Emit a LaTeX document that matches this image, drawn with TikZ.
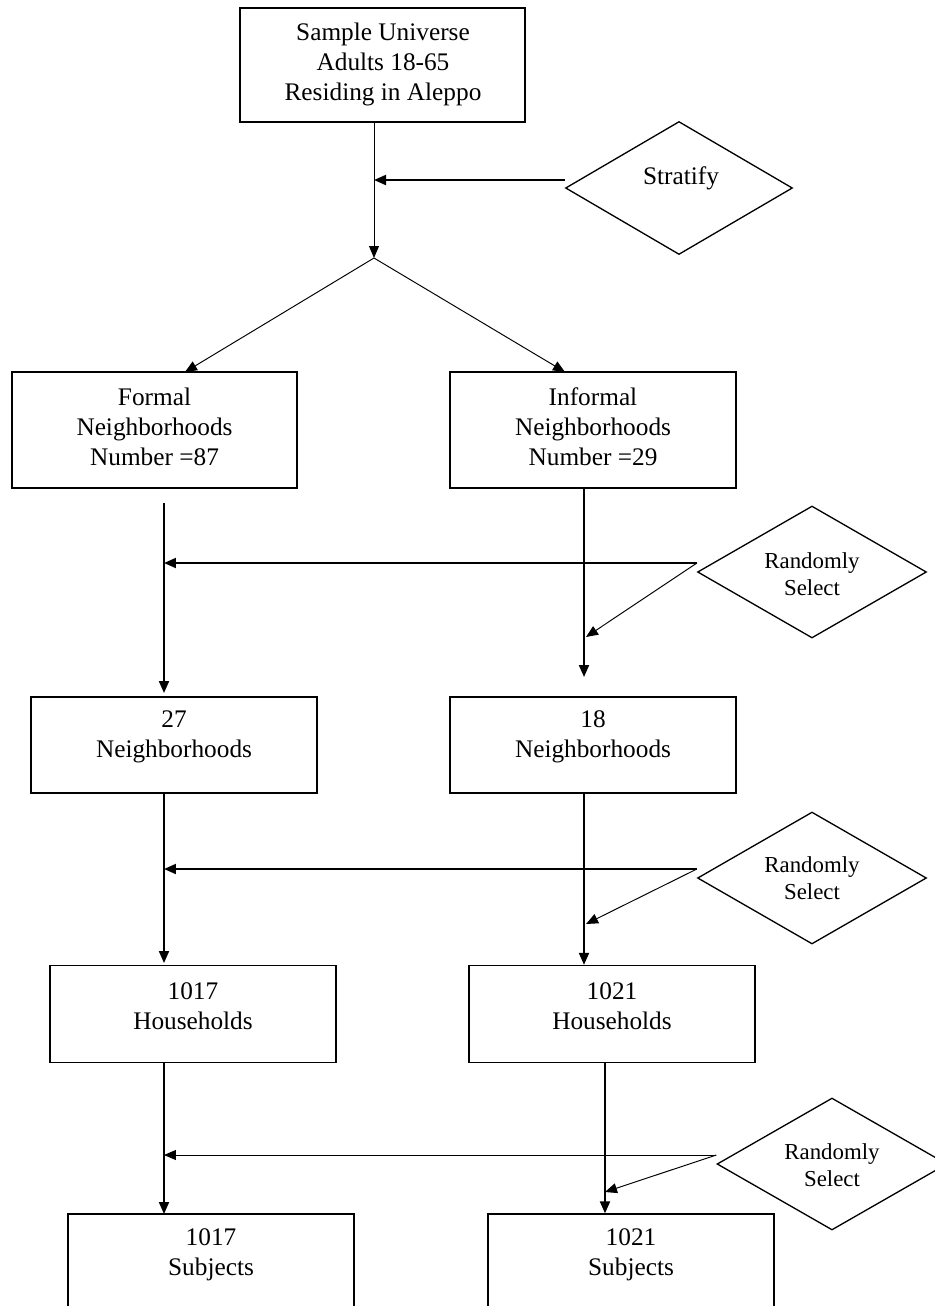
\documentclass[tikz,border=0pt]{standalone}
\usepackage{fontspec}
\setmainfont{Liberation Serif}
\usetikzlibrary{arrows.meta,shapes.geometric,calc}
\begin{document}
\begin{tikzpicture}[x=0.02cm,y=-0.02cm,
  box/.style={draw, line width=0.75pt, rectangle, inner sep=0pt, minimum width=5.72cm},
  dia/.style={draw, line width=0.75pt, diamond, inner sep=0pt, minimum width=4.58cm, minimum height=2.64cm},
  txt/.style={align=center, inner sep=0pt, font=\fontsize{14.4}{17.1}\selectfont},
  stxt/.style={align=center, inner sep=0pt, font=\fontsize{13}{15.4}\selectfont},
  thinarr/.style={line width=0.55pt, -{Triangle[length=0.24cm,width=0.2cm]}},
  thickarr/.style={line width=1.1pt, -{Triangle[length=0.24cm,width=0.2cm]}},
  thinline/.style={line width=0.55pt}
]
\useasboundingbox (0,0) rectangle (935,1306);

% boxes
\node[box, minimum width=5.7cm, minimum height=2.28cm] (top) at (382.5,65) {};
\node[txt] (topt) at (383,64) {Sample Universe\\Adults 18-65\\Residing in Aleppo};

\node[box, minimum width=5.7cm, minimum height=2.32cm] (formal) at (154.5,430) {};
\node[txt] (formalt) at (154.5,427) {Formal\\Neighborhoods\\Number =87};
\node[box, minimum height=2.32cm] (informal) at (593,430) {};
\node[txt] (informalt) at (593,427) {Informal\\Neighborhoods\\Number =29};

\node[box, minimum height=1.92cm] (n27) at (174,745) {};
\node[txt] (n27t) at (174,737) {27\\Neighborhoods};
\node[box, minimum height=1.92cm] (n18) at (593,745) {};
\node[txt] (n18t) at (593,737) {18\\Neighborhoods};

\node[box, minimum height=1.94cm] (h1017) at (193,1014) {};
\node[txt] (h1017t) at (193,1006) {1017\\Households};
\node[box, minimum height=1.94cm] (h1021) at (612,1014) {};
\node[txt] (h1021t) at (612,1006) {1021\\Households};

\node[box, minimum height=1.96cm] (s1017) at (211,1263) {};
\node[txt] (s1017t) at (211,1255) {1017\\Subjects};
\node[box, minimum height=1.96cm] (s1021) at (631,1263) {};
\node[txt] (s1021t) at (631,1255) {1021\\Subjects};

% diamonds
\node[dia, minimum width=4.54cm, minimum height=2.66cm] (strat) at (679,188) {};
\node[txt] (stratt) at (681,178) {Stratify};
\node[dia] (rs1) at (812,572) {};
\node[stxt] (rs1t) at (812,574) {Randomly\\Select};
\node[dia] (rs2) at (812,878) {};
\node[stxt] (rs2t) at (812,878) {Randomly\\Select};
\node[dia, minimum width=4.6cm] (rs3) at (832,1164) {};
\node[stxt] (rs3t) at (832,1165) {Randomly\\Select};

% coordinates
\coordinate (apex) at (374,258);
\coordinate (j0) at (374,180);
\coordinate (fa) at (185,372);
\coordinate (ia) at (565,372);
\coordinate (l1s) at (164,503);
\coordinate (l1e) at (164,693);
\coordinate (r1e) at (584,677);
\coordinate (k1) at (164,563);
\coordinate (d1) at (586,637);
\coordinate (l2e) at (164,963);
\coordinate (k2) at (164,869);
\coordinate (d2) at (586,924);
\coordinate (l3e) at (164,1214);
\coordinate (k3) at (164,1155);
\coordinate (d3) at (605,1192);

% top part
\draw[thinarr] (top.south -| apex) -- (apex);
\draw[thickarr] ($(strat.west)+(0,-8)$) -- (j0);
\draw[thinarr] (apex) -- (fa);
\draw[thinarr] (apex) -- (ia);

% level 1
\draw[thickarr] (l1s) -- (l1e);
\draw[thickarr] (informal.south -| r1e) -- (r1e);
\draw[thickarr] ($(rs1.west)+(0,-9)$) -- (k1);
\draw[thinarr] ($(rs1.west)+(0,-9)$) -- (d1);

% level 2
\draw[thickarr] (n27.south -| l2e) -- (l2e);
\draw[thickarr] (n18.south -| r1e) -- (h1021.north -| r1e);
\draw[thickarr] ($(rs2.west)+(0,-9)$) -- (k2);
\draw[thinarr] ($(rs2.west)+(0,-9)$) -- (d2);

% level 3
\draw[thickarr] (h1017.south -| l3e) -- (l3e);
\draw[thickarr] (h1021.south -| d3) -- (s1021.north -| d3);
\draw[thinarr] ($(rs3.west)+(0,-9)$) -- (k3);
\draw[thinarr] ($(rs3.west)+(0,-9)$) -- (d3);
\end{tikzpicture}
\end{document}
